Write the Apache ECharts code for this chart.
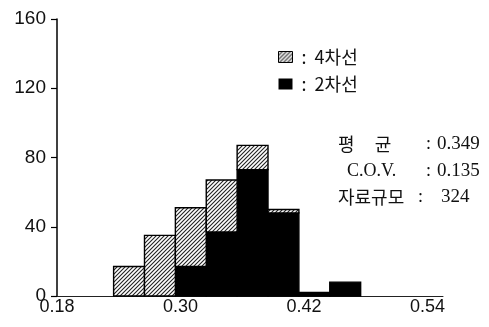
<!DOCTYPE html>
<html lang="ko">
<head>
  <meta charset="UTF-8">
  <title>차선별 분포</title>
  <style>
    * { margin: 0; padding: 0; }
    body { background: #fff; }
  </style>
  <script src="https://cdn.jsdelivr.net/npm/echarts@6/dist/echarts.min.js"></script>
</head>
<body>
  <div id="chart" style="width: 489px; height: 327px;"></div>
  <script>
    // 계급 중앙값 (폭 0.03)
    const centers = [0.25, 0.28, 0.31, 0.34, 0.37, 0.40, 0.43, 0.46]
    const BIN = 0.03
    // 빈도
    const lane2 = [0, 0, 17, 37, 73, 48, 2, 8]   // 2차선
    const lane4 = [17, 35, 34, 30, 14, 2, 0, 0]  // 4차선 (2차선 위에 누적)
    const xTicks = [0.18, 0.30, 0.42, 0.54]
    const stats = [
      { label: '평     균', value: '0.349' },
      { label: 'C.O.V.', value: '0.135' },
      { label: '자료규모', value: '324' }
    ]

    // 빗금 패턴
    const hatch = document.createElement('canvas')
    hatch.width = 4
    hatch.height = 4
    const hc = hatch.getContext('2d')
    hc.fillStyle = '#fff'
    hc.fillRect(0, 0, 4, 4)
    hc.strokeStyle = '#222'
    hc.lineWidth = 1.1
    hc.beginPath()
    hc.moveTo(0, 4); hc.lineTo(4, 0)
    hc.moveTo(-1, 1); hc.lineTo(1, -1)
    hc.moveTo(3, 5); hc.lineTo(5, 3)
    hc.stroke()
    const hatchFill = { image: hatch, repeat: 'repeat' }

    const data2 = centers.map((c, i) => [c, 0, lane2[i]])
    const data4 = centers.map((c, i) => [c, lane2[i], lane2[i] + lane4[i]])

    function makeRender(fill) {
      return function (params, api) {
        const lo = api.value(1), hi = api.value(2)
        if (hi - lo <= 0) return null
        const p0 = api.coord([api.value(0) - BIN / 2, lo])
        const p1 = api.coord([api.value(0) + BIN / 2, hi])
        return {
          type: 'rect',
          shape: { x: p0[0], y: p1[1], width: p1[0] - p0[0], height: p0[1] - p1[1] },
          style: { fill: fill, stroke: '#000', lineWidth: 1.4 }
        }
      }
    }

    const chart = echarts.init(document.getElementById('chart'))

    const graphics = []
    const rowY = [145, 172, 198]
    stats.forEach((s, i) => {
      const isCov = s.label === 'C.O.V.'
      graphics.push({
        type: 'text', left: isCov ? 347 : 338, top: rowY[i] - 10,
        style: {
          text: s.label, fill: '#111',
          font: isCov ? '18px "Liberation Serif"' : '18px "Noto Sans CJK KR"'
        }
      })
      graphics.push({
        type: 'text', left: i === 2 ? 418 : 426, top: rowY[i] - 10,
        style: { text: ':', fill: '#111', font: '18px "Liberation Serif"' }
      })
      graphics.push({
        type: 'text', left: i === 2 ? 441 : 437, top: rowY[i] - 10,
        style: { text: s.value, fill: '#111', font: '19px "Liberation Serif"' }
      })
    })

    const option = {
      backgroundColor: '#fff',
      animation: false,
      grid: { left: 57, right: 46, top: 19, bottom: 31 },
      legend: {
        orient: 'vertical',
        left: 278,
        top: 48,
        padding: 0,
        itemWidth: 14,
        itemHeight: 11,
        itemGap: 9,
        icon: 'rect',
        data: [
          { name: '4차선', itemStyle: { color: hatchFill, borderColor: '#000', borderWidth: 1 } },
          { name: '2차선', itemStyle: { color: '#000' } }
        ],
        formatter: name => ' :  ' + name,
        textStyle: { fontFamily: 'Noto Sans CJK KR', fontSize: 18, color: '#111' }
      },
      xAxis: {
        type: 'value',
        min: 0.18,
        max: 0.555,
        interval: 0.06,
        axisLine: { lineStyle: { color: '#222', width: 1 } },
        axisTick: { show: false },
        splitLine: { show: false },
        axisLabel: {
          margin: 2,
          fontFamily: 'Liberation Sans',
          fontSize: 18,
          color: '#111',
          showMaxLabel: false,
          formatter: v => xTicks.some(t => Math.abs(t - v) < 1e-6) ? v.toFixed(2) : ''
        }
      },
      yAxis: {
        type: 'value',
        min: 0,
        max: 160,
        interval: 40,
        axisLine: { show: true, lineStyle: { color: '#000', width: 1.5 } },
        axisTick: { show: true, length: 6, lineStyle: { color: '#000', width: 1.2 } },
        splitLine: { show: false },
        axisLabel: {
          margin: 11,
          fontFamily: 'Liberation Sans',
          fontSize: 19,
          color: '#111'
        }
      },
      graphic: graphics,
      series: [
        {
          name: '2차선', type: 'custom', data: data2,
          encode: { x: 0, y: [1, 2] },
          itemStyle: { color: '#000' },
          renderItem: makeRender('#000')
        },
        {
          name: '4차선', type: 'custom', data: data4,
          encode: { x: 0, y: [1, 2] },
          itemStyle: { color: hatchFill },
          renderItem: makeRender(hatchFill)
        }
      ]
    }
    chart.setOption(option)
  </script>
</body>
</html>
